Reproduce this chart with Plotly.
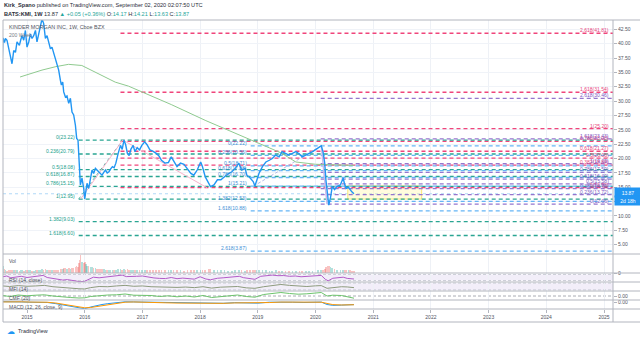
import plotly.graph_objects as go

# ---------------- data ----------------
years = [
    2014.567, 2014.584, 2014.61, 2014.626, 2014.653, 2014.683, 2014.712, 2014.74, 2014.77, 2014.80,
    2014.827, 2014.868, 2014.89, 2014.913, 2014.943, 2014.972, 2015.0, 2015.03, 2015.06, 2015.087,
    2015.116, 2015.146, 2015.173, 2015.203, 2015.232, 2015.26, 2015.289, 2015.319, 2015.347, 2015.376,
    2015.406, 2015.433, 2015.463, 2015.492, 2015.52, 2015.549, 2015.579, 2015.596, 2015.619, 2015.636,
    2015.666, 2015.693, 2015.723, 2015.752, 2015.78, 2015.809, 2015.839, 2015.861, 2015.884, 2015.896,
    2015.913, 2015.925, 2015.953, 2015.983, 2016.0,
    2016.023, 2016.04, 2016.069, 2016.099, 2016.127, 2016.155, 2016.185, 2016.213, 2016.24, 2016.27,
    2016.30, 2016.33, 2016.36, 2016.39, 2016.42, 2016.45, 2016.48, 2016.51, 2016.54, 2016.58,
    2016.62, 2016.65, 2016.68, 2016.71, 2016.74, 2016.77, 2016.80, 2016.84, 2016.87, 2016.91,
    2016.95, 2016.99, 2017.04, 2017.08, 2017.13, 2017.18, 2017.24, 2017.29, 2017.33, 2017.39,
    2017.45, 2017.50, 2017.54, 2017.60, 2017.66, 2017.72, 2017.78, 2017.84, 2017.89, 2017.95,
    2018.01, 2018.04, 2018.09, 2018.15, 2018.18, 2018.24, 2018.30, 2018.36, 2018.42, 2018.48,
    2018.55, 2018.61, 2018.67, 2018.72, 2018.78, 2018.81, 2018.86, 2018.92, 2018.95, 2018.98,
    2019.02, 2019.08, 2019.14, 2019.20, 2019.25, 2019.31, 2019.37, 2019.42, 2019.48, 2019.54,
    2019.60, 2019.66, 2019.72, 2019.77, 2019.83, 2019.89, 2019.95, 2020.04, 2020.10, 2020.13,
    2020.16, 2020.18, 2020.21, 2020.23, 2020.26, 2020.29, 2020.33, 2020.37, 2020.43, 2020.48,
    2020.50, 2020.53, 2020.57, 2020.60, 2020.63, 2020.667,
]
close = [
    36.2, 41.0, 40.2, 40.9, 40.6, 39.1, 37.7, 36.5, 38.8, 38.5,
    40.3, 39.7, 40.6, 41.4, 40.6, 42.3, 39.4, 40.3, 41.7, 40.9,
    41.4, 42.3, 40.3, 41.7, 42.9, 44.3, 43.5, 40.9, 41.4, 40.3,
    39.1, 39.4, 38.3, 37.1, 36.2, 35.4, 33.6, 32.8, 33.3, 31.6,
    30.7, 30.9, 29.6, 30.5, 28.1, 27.6, 25.8, 23.5, 23.2, 20.0,
    17.1, 15.4, 16.6, 14.8, 12.95,
    14.5, 15.7, 14.8, 16.6, 18.0, 17.4, 18.3, 18.0, 17.7, 17.3,
    17.1, 17.6, 18.0, 17.5, 17.7, 18.2, 18.6, 18.4, 19.2, 20.9,
    22.3, 21.6, 23.22, 22.4, 20.9, 20.5, 21.6, 22.3, 21.2, 21.9,
    21.5, 22.3, 22.9, 22.4, 21.5, 21.3, 20.9, 20.4, 19.7, 19.2,
    19.3, 20.3, 19.6, 18.6, 19.2, 19.0, 18.2, 17.4, 17.1, 18.0,
    19.4, 18.6, 16.8, 15.7, 15.1, 15.4, 16.3, 16.3, 16.8, 17.3,
    17.7, 18.3, 19.2, 18.0, 18.3, 17.1, 16.7, 16.0, 15.21, 16.0,
    17.4, 18.6, 19.4, 19.7, 20.0, 20.6, 20.3, 21.2, 20.9, 20.6,
    20.9, 21.2, 20.8, 20.3, 20.6, 20.9, 21.2, 21.8, 22.22, 21.2,
    19.2, 16.3, 14.0, 11.9, 13.2, 15.1, 14.6, 15.1, 15.4, 16.6,
    15.7, 14.8, 15.0, 14.5, 14.2, 13.87,
]
volume = [
    70, 160, 90, 60, 55, 65, 75, 80, 70, 60,
    65, 55, 60, 70, 58, 65, 72, 60, 62, 55,
    58, 66, 70, 60, 64, 85, 75, 90, 70, 65,
    72, 60, 68, 75, 80, 78, 95, 100, 85, 110,
    105, 90, 115, 95, 120, 110, 140, 170, 150, 230,
    290, 420, 260, 230, 250,
    200, 170, 160, 150, 140, 120, 110, 100, 95, 90,
    92, 85, 80, 78, 75, 80, 72, 70, 75, 90,
    95, 80, 85, 75, 90, 70, 72, 68, 80, 70,
    75, 65, 70, 60, 72, 65, 70, 68, 75, 72,
    60, 65, 62, 70, 60, 58, 66, 72, 68, 60,
    70, 62, 80, 90, 85, 70, 65, 60, 62, 58,
    55, 60, 64, 62, 55, 66, 70, 75, 80, 60,
    70, 65, 60, 58, 55, 60, 52, 56, 50, 54,
    52, 55, 50, 56, 52, 54, 58, 60, 65, 70,
    95, 140, 170, 160, 130, 110, 90, 80, 70, 75,
    65, 70, 60, 62, 58, 55,
]

ma_years = [2014.88, 2015.26, 2015.5, 2015.72, 2015.95, 2016.24, 2016.53, 2016.76, 2017.0,
            2017.5, 2018.1, 2018.67, 2019.0, 2019.4, 2019.66, 2020.0, 2020.667]
ma200 = [34.2, 35.4, 36.0, 36.4, 36.2, 34.8, 33.3, 32.6, 31.6,
         29.4, 26.6, 24.1, 22.7, 21.0, 19.4, 19.0, 18.8]

rsi_years = [2014.58, 2014.65, 2014.72, 2014.8, 2014.9, 2015.0, 2015.1, 2015.2, 2015.28, 2015.35,
             2015.45, 2015.55, 2015.62, 2015.7, 2015.78, 2015.85, 2015.92, 2016.0, 2016.08, 2016.15,
             2016.25, 2016.35, 2016.45, 2016.55, 2016.65, 2016.72, 2016.8, 2016.9, 2017.0, 2017.1,
             2017.2, 2017.3, 2017.4, 2017.5, 2017.6, 2017.7, 2017.8, 2017.9, 2018.0, 2018.1,
             2018.18, 2018.3, 2018.4, 2018.5, 2018.6, 2018.68, 2018.75, 2018.85, 2018.95, 2019.05,
             2019.15, 2019.25, 2019.35, 2019.45, 2019.55, 2019.65, 2019.75, 2019.85, 2019.95, 2020.05,
             2020.1, 2020.17, 2020.22, 2020.3, 2020.4, 2020.48, 2020.55, 2020.62, 2020.667]
rsi = [55, 60, 48, 52, 58, 50, 56, 58, 64, 50,
       42, 38, 33, 36, 32, 28, 22, 25, 42, 52,
       48, 52, 54, 60, 66, 56, 55, 58, 60, 52,
       47, 44, 43, 50, 42, 46, 40, 39, 55, 40,
       35, 45, 48, 50, 54, 58, 49, 42, 38, 58,
       64, 66, 62, 63, 58, 60, 55, 58, 60, 62,
       64, 38, 28, 45, 48, 52, 44, 42, 40]

flow_years = [2014.58, 2014.7, 2014.85, 2015.0, 2015.15, 2015.3, 2015.45, 2015.6, 2015.75, 2015.9,
              2016.0, 2016.1, 2016.25, 2016.4, 2016.55, 2016.7, 2016.85, 2017.0, 2017.15, 2017.3,
              2017.45, 2017.6, 2017.75, 2017.9, 2018.05, 2018.2, 2018.35, 2018.5, 2018.65, 2018.8,
              2018.95, 2019.1, 2019.25, 2019.4, 2019.55, 2019.7, 2019.85, 2020.0, 2020.1, 2020.2,
              2020.3, 2020.45, 2020.55, 2020.667]
mfi = [55, 50, 58, 52, 55, 60, 48, 40, 38, 30,
       28, 40, 50, 48, 55, 60, 52, 55, 48, 44,
       46, 42, 45, 40, 48, 36, 44, 47, 50, 38,
       34, 48, 55, 68, 60, 52, 50, 56, 58, 34,
       42, 48, 46, 40]
cmf = [0.05, -0.05, 0.10, 0.02, 0.08, 0.12, 0.0, -0.10, -0.15, -0.20,
       -0.18, -0.05, 0.05, 0.10, 0.12, 0.20, 0.08, 0.10, 0.05, -0.05,
       0.02, -0.08, 0.0, -0.10, 0.05, -0.15, -0.05, 0.05, 0.10, -0.05,
       -0.12, 0.15, 0.25, 0.35, 0.25, 0.18, 0.22, 0.30, 0.35, 0.0,
       0.08, 0.05, -0.10, -0.22]

macd_years = [2014.58, 2014.75, 2014.9, 2015.05, 2015.2, 2015.35, 2015.5, 2015.6, 2015.7, 2015.8,
              2015.9, 2016.0, 2016.1, 2016.2, 2016.3, 2016.4, 2016.5, 2016.6, 2016.7, 2016.85,
              2017.0, 2017.2, 2017.4, 2017.6, 2017.8, 2018.0, 2018.2, 2018.4, 2018.6, 2018.8,
              2019.0, 2019.2, 2019.4, 2019.6, 2019.8, 2020.0, 2020.1, 2020.2, 2020.3, 2020.45,
              2020.55, 2020.667]
macd = [0.8, 0.9, 0.6, 0.4, 0.6, 0.2, -0.8, -1.6, -2.3, -3.0,
        -4.2, -5.0, -3.6, -2.4, -1.5, -0.8, -0.2, 0.4, 0.7, 0.6,
        0.5, 0.1, -0.3, -0.4, -0.6, -0.3, -0.7, -0.5, 0.0, -0.2,
        -0.4, 0.4, 0.6, 0.4, 0.2, 0.4, 0.5, -1.5, -2.2, -2.0,
        -1.7, -1.6]
signal = [0.6, 0.8, 0.7, 0.5, 0.5, 0.35, -0.3, -1.0, -1.7, -2.4,
          -3.3, -4.2, -4.0, -3.2, -2.3, -1.5, -0.8, -0.1, 0.4, 0.6,
          0.55, 0.25, -0.1, -0.3, -0.5, -0.4, -0.55, -0.55, -0.2, -0.15,
          -0.3, 0.1, 0.5, 0.45, 0.3, 0.3, 0.4, -0.6, -1.6, -1.9,
          -1.8, -1.7]

# Fibonacci drawings
fibA_ratio = ["0", "0.236", "0.5", "0.618", "0.786", "1", "1.382", "1.618"]
fibA_price = [23.22, 20.79, 18.08, 16.87, 15.15, 12.95, 9.03, 6.60]
fibB_ratio = ["0", "0.236", "0.5", "0.618", "0.786", "1", "1.382", "1.618", "2.618"]
fibB_price = [22.22, 20.56, 18.71, 17.88, 16.70, 15.21, 12.53, 10.88, 3.87]
fibC_ratio = ["0", "0.382", "0.5", "0.618", "0.786", "1", "1.618", "2.618"]
fibC_price = [14.93, 18.84, 20.06, 21.27, 23.00, 25.20, 31.54, 41.81]
fibD_ratio = ["0", "0.236", "0.382", "0.5", "0.618", "0.786", "1", "1.618", "2.618"]
fibD_price = [12.06, 13.72, 14.75, 15.58, 16.40, 17.59, 19.09, 23.43, 30.46]

year_ticks = [2015, 2016, 2017, 2018, 2019, 2020, 2021, 2022, 2023, 2024, 2025]
last_price = 13.87

assert len(years) == len(close) == len(volume)
assert len(rsi_years) == len(rsi)
assert len(flow_years) == len(mfi) == len(cmf)
assert len(macd_years) == len(macd) == len(signal)

# ---------------- layout constants ----------------
W, H = 640, 339
ML, MR, MT, MB = 3, 27, 20, 30
PW, PH = W - ML - MR, H - MT - MB
XR = [2014.584, 2025.156]
FONT = "Liberation Sans, Arial, sans-serif"
GRAY = "#50535e"


def px_x(p):
    return (p - ML) / PW


def px_y(p):
    return 1 - (p - MT) / PH


dom_main = [px_y(254), 1]
dom_vol = [px_y(273), px_y(254)]
dom_rsi = [px_y(282), px_y(273)]
dom_mfi = [px_y(291), px_y(282)]
dom_cmf = [px_y(300), px_y(291)]
dom_macd = [0, px_y(300)]

fig = go.Figure()

# main price + MA
fig.add_trace(go.Scatter(x=ma_years, y=ma200, mode="lines", line=dict(color="#8fca8f", width=1),
                         xaxis="x", yaxis="y", hoverinfo="skip"))
fig.add_trace(go.Scatter(x=years, y=close, mode="lines", line=dict(color="#2196f3", width=1.4),
                         xaxis="x", yaxis="y", hoverinfo="skip"))

# volume
vcol = []
for i, c in enumerate(close):
    up = i == 0 or c >= close[i - 1]
    vcol.append("rgba(38,166,154,0.35)" if up else "rgba(239,83,80,0.35)")
fig.add_trace(go.Bar(x=years, y=volume, width=0.028, marker=dict(color=vcol, line=dict(width=0)),
                     xaxis="x", yaxis="y2", hoverinfo="skip"))

# indicators
fig.add_trace(go.Scatter(x=rsi_years, y=rsi, mode="lines", line=dict(color="#b35cc8", width=1),
                         xaxis="x", yaxis="y3"))
fig.add_trace(go.Scatter(x=flow_years, y=mfi, mode="lines", line=dict(color="#8d9b7d", width=1),
                         xaxis="x", yaxis="y4"))
fig.add_trace(go.Scatter(x=flow_years, y=cmf, mode="lines", line=dict(color="#6cc36c", width=1),
                         xaxis="x", yaxis="y5"))
fig.add_trace(go.Scatter(x=macd_years, y=macd, mode="lines", line=dict(color="#2196f3", width=1),
                         xaxis="x", yaxis="y6"))
fig.add_trace(go.Scatter(x=macd_years, y=signal, mode="lines", line=dict(color="#ff9800", width=1),
                         xaxis="x", yaxis="y6"))

shapes = []
annotations = []

# indicator bands
for yref, lo, hi in [("y3", 30, 70), ("y4", 20, 80)]:
    shapes.append(dict(type="rect", xref="paper", x0=0, x1=1, yref=yref, y0=lo, y1=hi,
                       fillcolor="rgba(126,87,194,0.10)", line=dict(width=0), layer="below"))
    for v in (lo, hi):
        shapes.append(dict(type="line", xref="paper", x0=0, x1=1, yref=yref, y0=v, y1=v,
                           line=dict(color="#c3c6cf", width=0.8, dash="3px,2px"), layer="below"))
shapes.append(dict(type="line", xref="paper", x0=0, x1=1, yref="y5", y0=0, y1=0,
                   line=dict(color="#9598a1", width=0.8, dash="3px,2px"), layer="below"))

# last price line
shapes.append(dict(type="line", xref="x", yref="y", x0=XR[0], x1=XR[1], y0=last_price, y1=last_price,
                   line=dict(color="#9ccff5", width=0.8, dash="dot"), layer="between"))

# yellow rectangle
shapes.append(dict(type="rect", xref="x", yref="y", x0=2020.56, x1=2021.84, y0=12.95, y1=15.25,
                   fillcolor="rgba(255,245,157,0.35)", line=dict(color="#fbe77a", width=1), layer="between"))

DASH = "4px,3px"


def fib_set(prices, ratios, start, line_col, text_col, label_side):
    for r, p in zip(ratios, prices):
        shapes.append(dict(type="line", xref="x", yref="y", x0=start, x1=XR[1], y0=p, y1=p,
                           line=dict(color=line_col, width=1.3, dash=DASH), layer="between"))
        if label_side == "left":
            annotations.append(dict(x=start, y=p, xref="x", yref="y", text=f"{r}({p:.2f})",
                                    showarrow=False, xanchor="right", yanchor="middle",
                                    xshift=-2, yshift=3, font=dict(size=5, color=text_col, family=FONT)))
        else:
            annotations.append(dict(x=XR[1], y=p, xref="x", yref="y", text=f"{r}({p:.2f})",
                                    showarrow=False, xanchor="right", yanchor="middle",
                                    xshift=-2, yshift=3, font=dict(size=5, color=text_col, family=FONT)))


fib_set(fibC_price, fibC_ratio, 2016.62, "#f0457b", "#e8437a", "right")
fib_set(fibA_price, fibA_ratio, 2015.896, "#2aa592", "#22a08c", "left")
fib_set(fibB_price, fibB_ratio, 2018.877, "#64b5f6", "#3d8fd6", "left")
fib_set(fibD_price, fibD_ratio, 2020.09, "#9575cd", "#7e57c2", "right")

# drawing diagonals
shapes.append(dict(type="line", xref="x", yref="y", x0=fibA_start if False else 2015.896, y0=fibA_price[5],
                   x1=2016.66, y1=fibA_price[0], line=dict(color="#5bb8a8", width=1, dash="dot"), layer="between"))
shapes.append(dict(type="line", xref="x", yref="y", x0=2015.93, y0=fibA_price[5], x1=2016.66, y1=fibA_price[0],
                   line=dict(color="#f7b3cb", width=1), layer="between"))
shapes.append(dict(type="line", xref="x", yref="y", x0=2016.66, y0=fibA_price[0], x1=2018.12, y1=fibC_price[0],
                   line=dict(color="#f7b3cb", width=1), layer="between"))
shapes.append(dict(type="line", xref="x", yref="y", x0=2018.93, y0=fibB_price[5], x1=2020.10, y1=fibB_price[0],
                   line=dict(color="#b0b8e6", width=1, dash="3px,2px"), layer="between"))
shapes.append(dict(type="line", xref="x", yref="y", x0=2020.10, y0=fibB_price[0], x1=2020.2, y1=fibD_price[0],
                   line=dict(color="#c9b8ea", width=1.5), layer="between"))

# borders and separators
BORDER = "#b2b5be"
for py in (20, 254, 273, 282, 291, 300, 309, 322):
    shapes.append(dict(type="line", xref="paper", yref="paper", x0=px_x(3), x1=px_x(640),
                       y0=px_y(py), y1=px_y(py), line=dict(color=BORDER, width=1), layer="above"))
for pxv in (3, 613):
    shapes.append(dict(type="line", xref="paper", yref="paper", x0=px_x(pxv), x1=px_x(pxv),
                       y0=px_y(20), y1=px_y(322), line=dict(color=BORDER, width=1), layer="above"))


def txt(px, py, text, size=5, color=GRAY, anchor="left"):
    annotations.append(dict(x=px_x(px), y=px_y(py), xref="paper", yref="paper", text=text,
                            showarrow=False, xanchor=anchor, yanchor="middle",
                            font=dict(size=size, color=color, family=FONT)))


TEAL = "#26a69a"
txt(2, 5, "<b>Kirk_Spano</b> published on TradingView.com, September 02, 2020 02:07:50 UTC",
    size=5.6, color="#2a2e39")
txt(2, 14, "<b>BATS:KMI, 1W</b> 13.87 <span style='color:%s'>▲ +0.05 (+0.36%%)</span> "
           "O:<span style='color:%s'>14.17</span> H:<span style='color:%s'>14.21</span> "
           "L:<span style='color:%s'>13.63</span> C:<span style='color:%s'>13.87</span>"
    % (TEAL, TEAL, TEAL, TEAL, TEAL), size=5.6, color="#2a2e39")
txt(7, 27.5, "KINDER MORGAN INC, 1W, Cboe BZX", size=5.4)
txt(7, 34.5, "200 Week", size=5, color="#787b86")
txt(7, 261, "Vol", size=5)
txt(7, 279.5, "RSI (14, close)", size=5)
txt(7, 288.5, "MFI (14)", size=5)
txt(7, 297.5, "CMF (20)", size=5)
txt(7, 306.5, "MACD (12, 26, close, 9)", size=5)
txt(5, 331, "☁", size=8, color="#2196f3")
txt(15.5, 331, "TradingView", size=5.4, color="#2a2e39")

# price box on axis
annotations.append(dict(x=1, y=last_price, xref="paper", yref="y", text="13.87", showarrow=False,
                        xanchor="left", yanchor="middle", xshift=1, yshift=1, width=24, height=7,
                        bgcolor="#2196f3", font=dict(size=5, color="white", family=FONT)))
annotations.append(dict(x=1, y=last_price, xref="paper", yref="y", text="2d 18h", showarrow=False,
                        xanchor="left", yanchor="middle", xshift=1, yshift=-7, width=24, height=7,
                        bgcolor="#2196f3", font=dict(size=5, color="white", family=FONT)))

yax = dict(side="right", anchor="x", zeroline=False, showline=False, fixedrange=True,
           tickfont=dict(size=5, color=GRAY, family=FONT), ticks="outside", ticklen=3,
           tickcolor=BORDER)

fig.update_layout(
    width=W, height=H, autosize=False,
    margin=dict(l=ML, r=MR, t=MT, b=MB, pad=0),
    paper_bgcolor="white", plot_bgcolor="white",
    showlegend=False, bargap=0, barmode="overlay",
    font=dict(family=FONT, size=5, color=GRAY),
    xaxis=dict(domain=[0, 1], range=XR, anchor="y6", tickmode="array", tickvals=year_ticks,
               ticktext=[str(t) for t in year_ticks], showgrid=True, gridcolor="#eef1f6", gridwidth=1,
               zeroline=False, showline=False, ticks="outside", ticklen=3, tickcolor=BORDER,
               tickfont=dict(size=5, color=GRAY, family=FONT), fixedrange=True),
    yaxis=dict(yax, domain=dom_main, range=[3.38, 44.12], tickmode="linear", tick0=5, dtick=2.5,
               tickformat=".2f", showgrid=True, gridcolor="#f0f3f8"),
    yaxis2=dict(yax, domain=dom_vol, range=[0, 440], tickmode="array", tickvals=[0], ticktext=["0"],
                showgrid=False),
    yaxis3=dict(yax, domain=dom_rsi, range=[20, 80], showticklabels=False, ticks="", showgrid=False),
    yaxis4=dict(yax, domain=dom_mfi, range=[10, 90], showticklabels=False, ticks="", showgrid=False),
    yaxis5=dict(yax, domain=dom_cmf, range=[-0.4, 0.5], tickmode="array", tickvals=[0],
                tickformat=".2f", showgrid=False),
    yaxis6=dict(yax, domain=dom_macd, range=[-5.2, 2.2], tickmode="array", tickvals=[0],
                tickformat=".2f", showgrid=False),
    shapes=shapes,
    annotations=annotations,
)

fig.write_html("out.html")
